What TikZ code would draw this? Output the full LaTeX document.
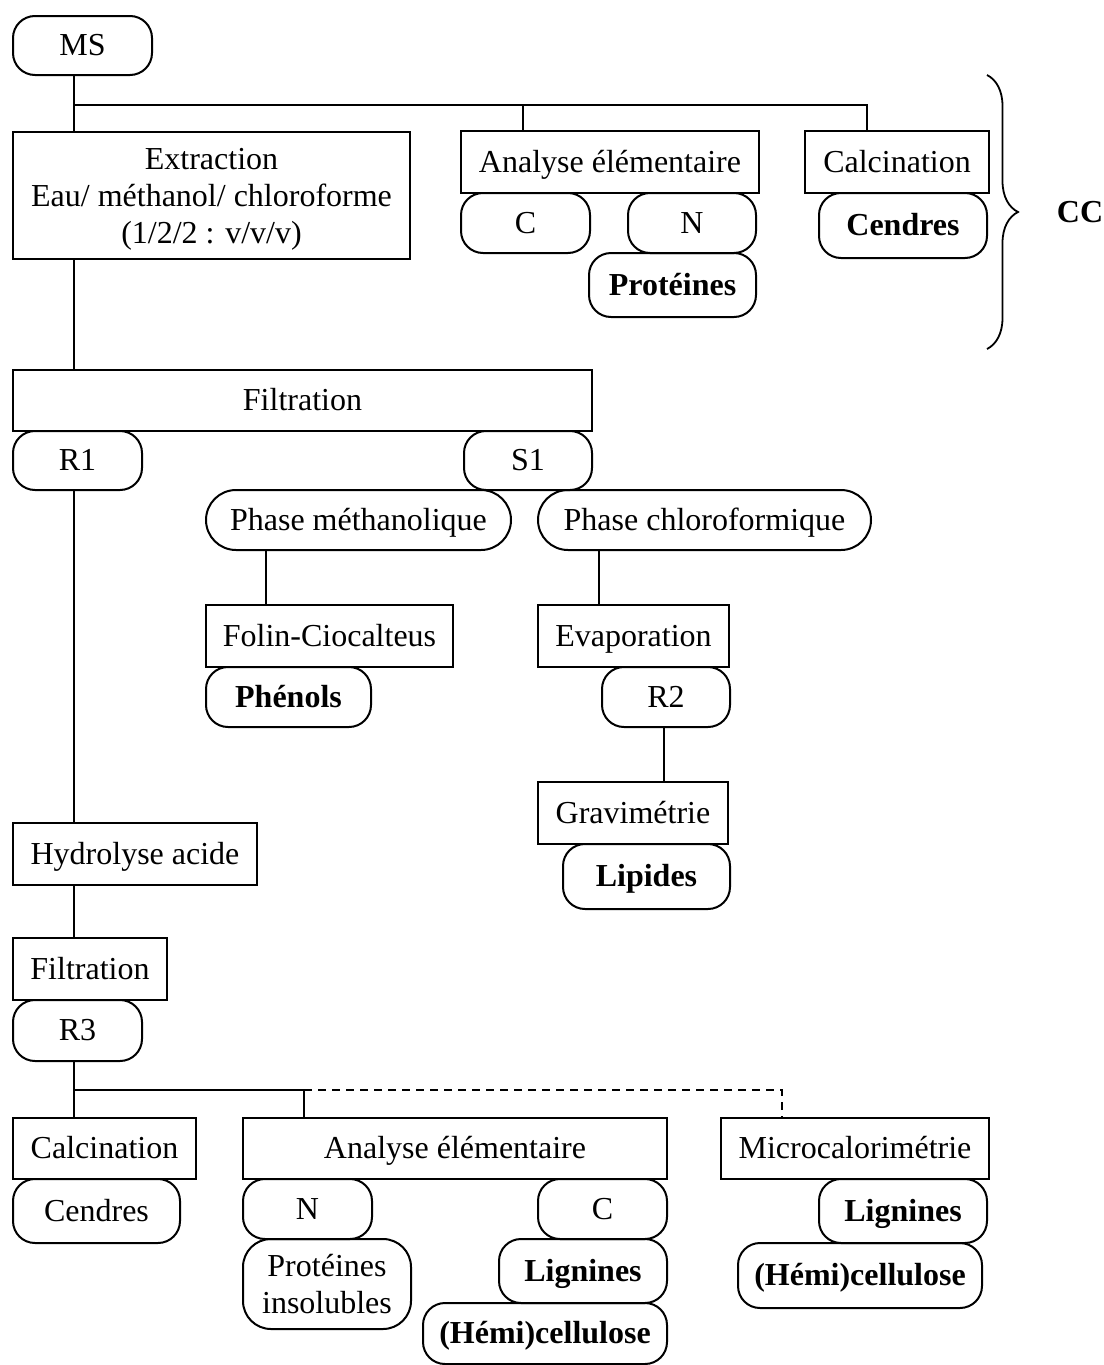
\documentclass[tikz,border=0pt]{standalone}
\usepackage{fontspec}
\setmainfont{Liberation Serif}
\usetikzlibrary{decorations.pathreplacing}
\begin{document}
\begin{tikzpicture}[x=1pt, y=-1pt, line width=2pt,
  every node/.style={font=\fontsize{32}{37}\selectfont, inner sep=0pt, align=center},
  oneline/.style={text height=27pt, text depth=7pt},
  box/.style={draw, rectangle, oneline},
  pill/.style={draw, rounded corners=22pt, oneline},
  phase/.style={draw, rounded corners=30pt, oneline}]
  \useasboundingbox (0,0) rectangle (1103,1365);
  % top : MS, extraction and the CC analyses
  \node[pill, minimum width=139pt, minimum height=59pt] (ms) at (82.5,45.5) {MS};
  \node[draw, minimum width=397pt, minimum height=127pt] (ext) at (211.5,195.5) {\rule{0pt}{29pt}Extraction\\Eau/ méthanol/ chloroforme\\(1/2/2 : v/v/v)};
  \node[box, minimum width=298pt, minimum height=62pt] (ae1) at (610,162) {Analyse élémentaire};
  \node[pill, minimum width=129pt, minimum height=60pt] (c1) at (525.5,223) {C};
  \node[pill, minimum width=128pt, minimum height=60pt] (n1) at (692,223) {N};
  \node[pill, minimum width=167pt, minimum height=64pt] (prot1) at (672.5,285) {\textbf{Protéines}};
  \node[box, minimum width=184pt, minimum height=62pt] (calc1) at (897,162) {Calcination};
  \node[pill, minimum width=168pt, minimum height=65pt] (cend1) at (903,225.5) {\textbf{Cendres}};
  \node (cc) at (1080,212) {\textbf{CC}};
  \coordinate (brtop) at (987,75);
  \coordinate (brbot) at (987,349);
  \draw[line width=1.8pt, decorate, decoration={brace, amplitude=31pt}] (brtop) -- (brbot);
  \coordinate (j1) at (74,105);
  \coordinate (t2) at (523,105);
  \coordinate (t3) at (867,105);
  \draw (ms.south -| j1) -- (ext.north -| j1);
  \draw (j1) -- (t3) -- (t3 |- calc1.north);
  \draw (t2) -- (t2 |- ae1.north);
  % filtration, residue and solvent phases
  \node[box, minimum width=579pt, minimum height=61pt] (filt1) at (302.5,400.5) {Filtration};
  \node[pill, minimum width=129pt, minimum height=59pt] (r1) at (77.5,460.5) {R1};
  \node[pill, minimum width=128pt, minimum height=59pt] (s1) at (528,460.5) {S1};
  \node[phase, minimum width=305pt, minimum height=60pt] (phm) at (358.5,520) {Phase méthanolique};
  \node[phase, minimum width=333pt, minimum height=60pt] (phc) at (704.5,520) {Phase chloroformique};
  \node[box, minimum width=247pt, minimum height=62pt] (folin) at (329.5,636) {Folin-Ciocalteus};
  \node[pill, minimum width=165pt, minimum height=60pt] (phen) at (288.5,697) {\textbf{Phénols}};
  \node[box, minimum width=191pt, minimum height=62pt] (evap) at (633.5,636) {Evaporation};
  \node[pill, minimum width=128pt, minimum height=60pt] (r2) at (666,697) {R2};
  \node[box, minimum width=190pt, minimum height=62pt] (grav) at (633,813) {Gravimétrie};
  \node[pill, minimum width=167pt, minimum height=65pt] (lip) at (646.5,876.5) {\textbf{Lipides}};
  \coordinate (xm) at (266,0);
  \coordinate (xc) at (599,0);
  \coordinate (xr) at (664,0);
  \draw (ext.south -| j1) -- (filt1.north -| j1);
  \draw (phm.south -| xm) -- (folin.north -| xm);
  \draw (phc.south -| xc) -- (evap.north -| xc);
  \draw (r2.south -| xr) -- (grav.north -| xr);
  % hydrolysis of R1
  \node[box, minimum width=244pt, minimum height=62pt] (hydro) at (135,854) {Hydrolyse acide};
  \node[box, minimum width=154pt, minimum height=62pt] (filt2) at (90,969) {Filtration};
  \node[pill, minimum width=129pt, minimum height=61pt] (r3) at (77.5,1030.5) {R3};
  \draw (r1.south -| j1) -- (hydro.north -| j1);
  \draw (hydro.south -| j1) -- (filt2.north -| j1);
  % analyses of R3
  \node[box, minimum width=183pt, minimum height=61pt] (calc2) at (104.5,1148.5) {Calcination};
  \node[pill, minimum width=167pt, minimum height=64pt] (cend2) at (96.5,1211) {Cendres};
  \node[box, minimum width=424pt, minimum height=61pt] (ae2) at (455,1148.5) {Analyse élémentaire};
  \node[pill, minimum width=129pt, minimum height=60pt] (n2) at (307.5,1209) {N};
  \node[draw, rounded corners=28pt, minimum width=168pt, minimum height=90pt] (protins) at (327,1284) {Protéines\\insolubles};
  \node[pill, minimum width=129pt, minimum height=60pt] (c2) at (602.5,1209) {C};
  \node[pill, minimum width=168pt, minimum height=64pt] (lig2) at (583,1271) {\textbf{Lignines}};
  \node[pill, minimum width=244pt, minimum height=61pt] (hemi2) at (545,1333.5) {\textbf{(Hémi)cellulose}};
  \node[box, minimum width=268pt, minimum height=61pt] (micro) at (855,1148.5) {Microcalorimétrie};
  \node[pill, minimum width=168pt, minimum height=64pt] (lig3) at (903,1211) {\textbf{Lignines}};
  \node[pill, minimum width=244pt, minimum height=65pt] (hemi3) at (860,1275.5) {\textbf{(Hémi)cellulose}};
  \coordinate (j2) at (74,1090);
  \coordinate (t5) at (304,1090);
  \coordinate (t6) at (782,1090);
  \draw (r3.south -| j2) -- (calc2.north -| j2);
  \draw (j2) -- (t5) -- (t5 |- ae2.north);
  \draw[dash pattern=on 8pt off 6pt] (t5) -- (t6) -- (t6 |- micro.north);
\end{tikzpicture}
\end{document}
